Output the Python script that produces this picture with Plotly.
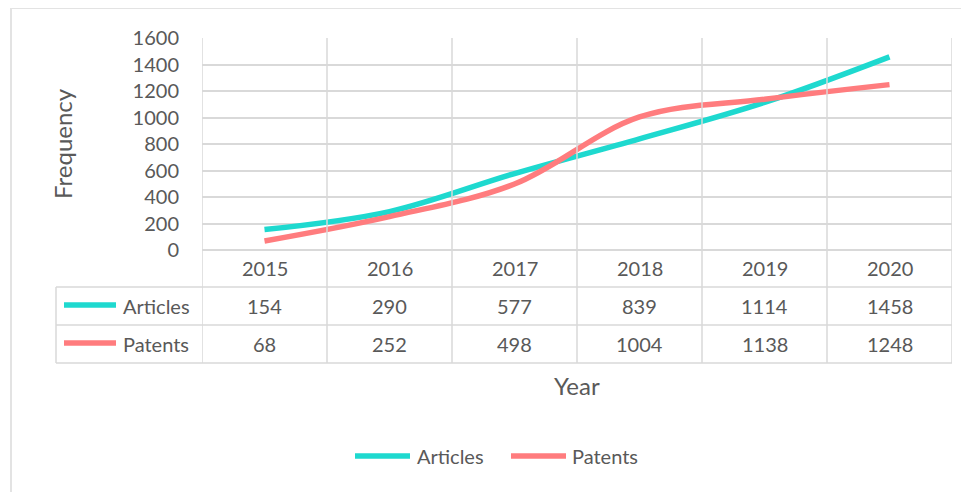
import plotly.graph_objects as go

years = ["2015", "2016", "2017", "2018", "2019", "2020"]
articles = [154, 290, 577, 839, 1114, 1458]
patents = [68, 252, 498, 1004, 1138, 1248]
series_names = ["Articles", "Patents"]
colors = ["#1ED9CF", "#FF7C7E"]
y_ticks = [0, 200, 400, 600, 800, 1000, 1200, 1400, 1600]

OFF = 8  # browser default body margin
W, H = 969 - OFF, 492 - OFF
L, R, T, B = 202 - OFF, 952 - OFF, 38 - OFF, 250 - OFF
FONT = "Lato"
TXT = "#595959"
GRID = "#D9D9D9"


def px_x(x):
    return (x - OFF - L) / (R - L)


def px_y(y):
    return (B - (y - OFF)) / (B - T)


xs = list(range(len(years)))
fig = go.Figure()
for name, vals, col in zip(series_names, [articles, patents], colors):
    fig.add_trace(go.Scatter(
        x=xs, y=vals, mode="lines", name=name,
        line=dict(color=col, width=5.5, shape="spline", smoothing=1.0),
        showlegend=False, hoverinfo="x+y"))

shapes = []
ann = []


def text(x, xref, y, s, size=20, xanchor="center", angle=0):
    ann.append(dict(x=x, xref=xref, y=y, yref="paper", text=s, showarrow=False,
                    xanchor=xanchor, yanchor="middle", textangle=angle,
                    font=dict(family=FONT, size=size, color=TXT)))


# vertical column lines (plot + table)
for i in range(len(years) + 1):
    shapes.append(dict(type="line", xref="x", yref="paper",
                       x0=i - 0.5, x1=i - 0.5, y0=px_y(363), y1=1,
                       line=dict(color=GRID, width=1.5)))
# table horizontal lines
for yy in [287, 325, 363]:
    shapes.append(dict(type="line", xref="paper", yref="paper",
                       x0=px_x(56), x1=1, y0=px_y(yy), y1=px_y(yy),
                       line=dict(color=GRID, width=1.5)))
shapes.append(dict(type="line", xref="paper", yref="paper",
                   x0=px_x(56), x1=px_x(56), y0=px_y(287), y1=px_y(363),
                   line=dict(color=GRID, width=1.5)))
# outer chart border
shapes.append(dict(type="line", xref="paper", yref="paper",
                   x0=px_x(11), x1=px_x(975), y0=px_y(8), y1=px_y(8),
                   line=dict(color="#E3E3E3", width=2)))
shapes.append(dict(type="line", xref="paper", yref="paper",
                   x0=px_x(11), x1=px_x(11), y0=px_y(8), y1=px_y(500),
                   line=dict(color="#E3E3E3", width=2)))

# category row
for i, yv in enumerate(years):
    text(i, "x", px_y(268), yv)
# data rows
rows = [(306, articles), (344, patents)]
for (ry, vals), name, col in zip(rows, series_names, colors):
    for i, v in enumerate(vals):
        text(i, "x", px_y(ry), str(v))
    shapes.append(dict(type="line", xref="paper", yref="paper",
                       x0=px_x(64), x1=px_x(116), y0=px_y(ry - 1), y1=px_y(ry - 1),
                       line=dict(color=col, width=5.5)))
    text(px_x(121), "paper", px_y(ry), name, xanchor="left")

# axis titles
text(px_x(62), "paper", px_y(144), "Frequency", size=24, angle=-90)
text(px_x(577), "paper", px_y(385), "Year", size=24)

# bottom legend
leg = [(355, 410, 415), (511, 566, 570)]
for (x0, x1, tx), name, col in zip(leg, series_names, colors):
    shapes.append(dict(type="line", xref="paper", yref="paper",
                       x0=px_x(x0), x1=px_x(x1), y0=px_y(456), y1=px_y(456),
                       line=dict(color=col, width=5.5)))
    text(px_x(tx), "paper", px_y(456), name, xanchor="left")

fig.update_layout(
    width=W, height=H,
    margin=dict(l=L, r=W - R, t=T, b=H - B, pad=0),
    paper_bgcolor="white", plot_bgcolor="white",
    shapes=shapes, annotations=ann,
    font=dict(family=FONT, color=TXT),
    xaxis=dict(range=[-0.5, len(years) - 0.5], showgrid=False, zeroline=False,
               showticklabels=False, showline=False, fixedrange=True),
    yaxis=dict(range=[0, 1600], tickvals=y_ticks, showgrid=True, gridcolor=GRID,
               gridwidth=1.5, zeroline=True, zerolinecolor=GRID, zerolinewidth=1.5,
               showline=False, ticks="", ticklabelstandoff=22,
               tickfont=dict(family=FONT, size=20, color=TXT), fixedrange=True),
)
fig.write_html("out.html")
